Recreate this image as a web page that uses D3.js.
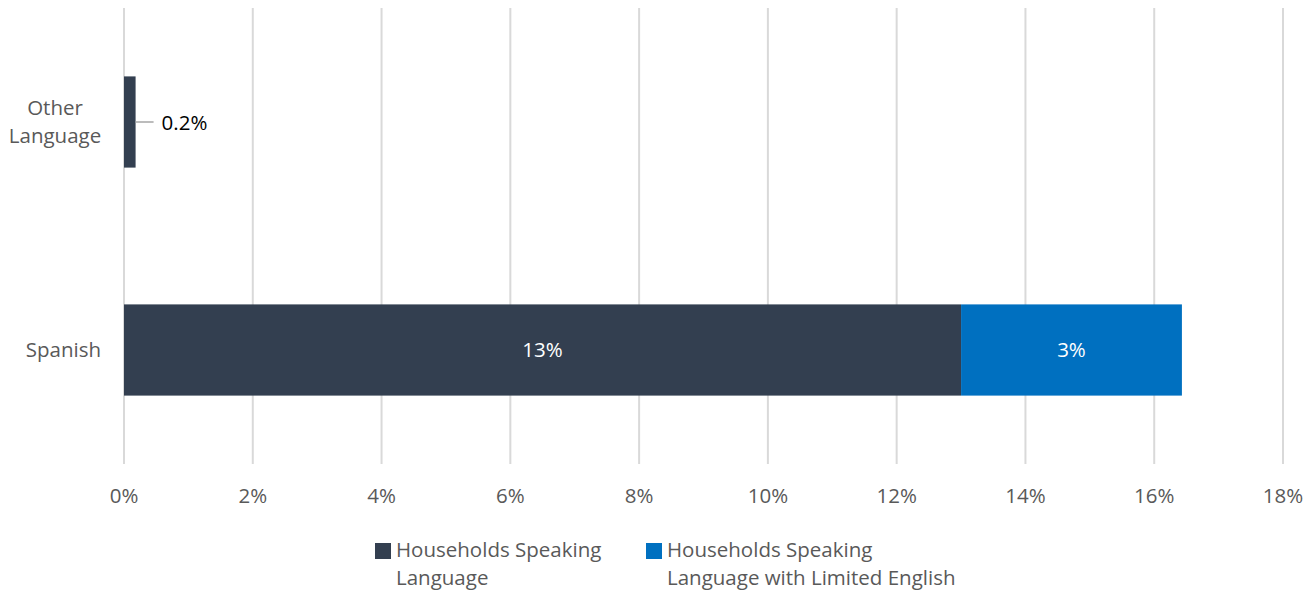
<!DOCTYPE html>
<html>
<head>
<meta charset="utf-8">
<script src="https://cdn.jsdelivr.net/npm/d3@7"></script>
<style>
  body { margin: 0; background: #fff; }
  text { font-family: "Open Sans", sans-serif; }
</style>
</head>
<body>
<div id="chart"></div>
<script>
// data
var categories = ["Other Language", "Spanish"];
var categoryLines = [["Other", "Language"], ["Spanish"]];
var speaking = [0.18, 13.0];
var limited = [0, 3.43];
var speakingLabels = ["0.2%", "13%"];
var limitedLabels = ["", "3%"];
var seriesNames = [["Households Speaking", "Language"], ["Households Speaking", "Language with Limited English"]];
var colors = ["#333F50", "#0070C0"];
var xTicks = [0, 2, 4, 6, 8, 10, 12, 14, 16, 18];

var W = 1312, H = 590;
var margin = {top: 8, right: 29, bottom: 126, left: 124};
var width = W - margin.left - margin.right, height = H - margin.top - margin.bottom;
var fs = 20.5;

var svg = d3.select("#chart").append("svg")
    .attr("width", W).attr("height", H);
var g = svg.append("g")
    .attr("transform", "translate(" + margin.left + "," + margin.top + ")");

var x = d3.scaleLinear().domain([0, 18]).range([0, width]);
var y = d3.scaleBand().domain(categories).range([0, height]).paddingInner(0.6).paddingOuter(0.3);

// gridlines
g.append("g").selectAll("line")
  .data(xTicks).enter().append("line")
    .attr("x1", function(d){ return x(d); })
    .attr("x2", function(d){ return x(d); })
    .attr("y1", 0).attr("y2", height)
    .attr("stroke", "#D9D9D9").attr("stroke-width", 2);

// tick labels
g.append("g").selectAll("text")
  .data(xTicks).enter().append("text")
    .attr("x", function(d){ return x(d); })
    .attr("y", height + 39)
    .attr("text-anchor", "middle")
    .attr("font-size", fs)
    .attr("fill", "#595959")
    .text(function(d){ return d + "%"; });

// category labels
categories.forEach(function(c, i){
  var lines = categoryLines[i];
  var cy = y(c) + y.bandwidth() / 2;
  var multi = lines.length > 1;
  var t = g.append("text")
    .attr("text-anchor", multi ? "middle" : "end")
    .attr("font-size", fs)
    .attr("fill", "#595959");
  lines.forEach(function(l, j){
    t.append("tspan")
      .attr("x", multi ? -69 : -23)
      .attr("y", cy + (j - (lines.length - 1) / 2) * 28 + 7)
      .text(l);
  });
});

// bars
var bars = g.append("g");
categories.forEach(function(c, i){
  bars.append("rect")
    .attr("x", x(0)).attr("y", y(c))
    .attr("width", x(speaking[i]) - x(0)).attr("height", y.bandwidth())
    .attr("fill", colors[0]);
  if (limited[i] > 0) {
    bars.append("rect")
      .attr("x", x(speaking[i])).attr("y", y(c))
      .attr("width", x(speaking[i] + limited[i]) - x(speaking[i])).attr("height", y.bandwidth())
      .attr("fill", colors[1]);
  }
});

// labels
categories.forEach(function(c, i){
  var cy = y(c) + y.bandwidth() / 2;
  var w = x(speaking[i]) - x(0);
  if (w > 60) {
    g.append("text")
      .attr("x", x(speaking[i] / 2)).attr("y", cy + 7)
      .attr("text-anchor", "middle").attr("font-size", fs)
      .attr("fill", "#fff").text(speakingLabels[i]);
  } else {
    g.append("line")
      .attr("x1", x(speaking[i])).attr("x2", x(speaking[i]) + 18)
      .attr("y1", cy).attr("y2", cy)
      .attr("stroke", "#A6A6A6").attr("stroke-width", 1.5);
    g.append("text")
      .attr("x", x(speaking[i]) + 26).attr("y", cy + 8)
      .attr("font-size", fs).attr("fill", "#000").text(speakingLabels[i]);
  }
  if (limited[i] > 0) {
    g.append("text")
      .attr("x", x(speaking[i] + limited[i] / 2)).attr("y", cy + 7)
      .attr("text-anchor", "middle").attr("font-size", fs)
      .attr("fill", "#fff").text(limitedLabels[i]);
  }
});

// legend
var legendX = [375, 646];
seriesNames.forEach(function(s, i){
  var lg = svg.append("g").attr("transform", "translate(" + legendX[i] + ",543)");
  lg.append("rect").attr("width", 16).attr("height", 16).attr("fill", colors[i]);
  var t = lg.append("text").attr("font-size", fs).attr("fill", "#595959");
  s.forEach(function(l, j){
    t.append("tspan").attr("x", 21).attr("y", 14 + j * 28).text(l);
  });
});
</script>
</body>
</html>
